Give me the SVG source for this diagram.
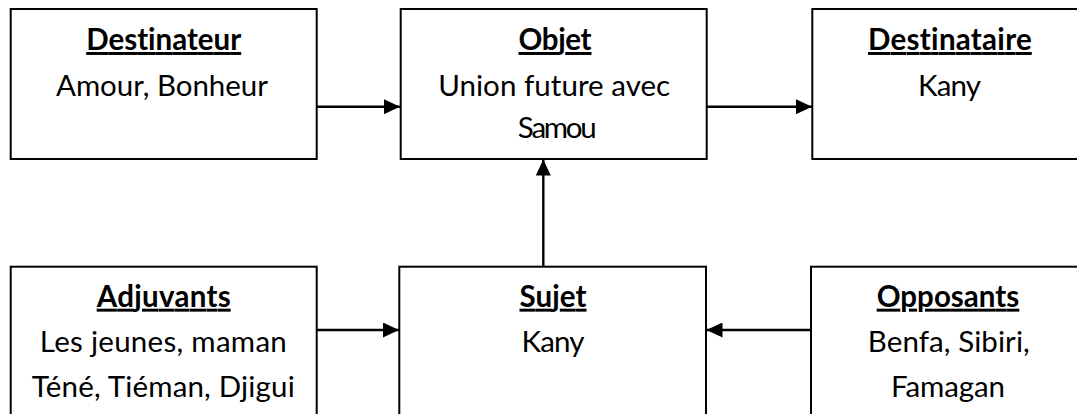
<svg xmlns="http://www.w3.org/2000/svg" width="1077" height="414" viewBox="0 0 1077 414">
  <style>
    .box { fill: #ffffff; stroke: #000000; stroke-width: 2; }
    .t { font-family: Lato, "Liberation Sans", sans-serif; font-size: 29.5px; fill: #000000; text-anchor: middle; font-variant-ligatures: none; }
    .h { font-weight: bold; text-decoration: underline; }
    .conn { stroke: #000000; stroke-width: 2.4; fill: none; marker-end: url(#arrow); }
  </style>
  <defs>
    <marker id="arrow" markerUnits="userSpaceOnUse" markerWidth="16" markerHeight="15" refX="16" refY="7.5" orient="auto">
      <path d="M0,0 L16,7.5 L0,15 Z" fill="#000000"/>
    </marker>
  </defs>
  <rect width="1077" height="414" fill="#ffffff"/>

  <g id="connectors">
    <line class="conn" x1="316.7" y1="106.7" x2="400" y2="106.7"/>
    <line class="conn" x1="706.7" y1="106.7" x2="812" y2="106.7"/>
    <line class="conn" x1="543.3" y1="266.7" x2="543.3" y2="159.5"/>
    <line class="conn" x1="316.7" y1="330" x2="399" y2="330"/>
    <line class="conn" x1="811" y1="330" x2="706.5" y2="330"/>
  </g>

  <g id="destinateur">
    <rect class="box" x="10.7" y="9" width="306" height="150"/>
    <text class="t h" x="163.7" y="50" textLength="155" lengthAdjust="spacing">Destinateur</text>
    <text class="t" x="162" y="95.7" textLength="212" lengthAdjust="spacing">Amour, Bonheur</text>
  </g>

  <g id="objet">
    <rect class="box" x="400.7" y="9" width="306" height="150"/>
    <text class="t h" x="555" y="50" textLength="73" lengthAdjust="spacing">Objet</text>
    <text class="t" x="554.2" y="95.7" textLength="232" lengthAdjust="spacing">Union future avec</text>
    <text class="t" x="557.3" y="138.3" textLength="79" lengthAdjust="spacing">Samou</text>
  </g>

  <g id="destinataire">
    <rect class="box" x="812.3" y="9" width="290" height="150"/>
    <text class="t h" x="949.9" y="50" textLength="163.7" lengthAdjust="spacing">Destinataire</text>
    <text class="t" x="949.5" y="95.7" textLength="63" lengthAdjust="spacing">Kany</text>
  </g>

  <g id="adjuvants">
    <rect class="box" x="10.7" y="266.7" width="306" height="170"/>
    <text class="t h" x="163.7" y="306.7" textLength="134" lengthAdjust="spacing">Adjuvants</text>
    <text class="t" x="163.3" y="351.7" textLength="247" lengthAdjust="spacing">Les jeunes, maman</text>
    <text class="t" x="163.3" y="396.7" textLength="263" lengthAdjust="spacing">Téné, Tiéman, Djigui</text>
  </g>

  <g id="sujet">
    <rect class="box" x="399.3" y="266.7" width="306.7" height="170"/>
    <text class="t h" x="553" y="306.7" textLength="67" lengthAdjust="spacing">Sujet</text>
    <text class="t" x="553" y="351.7" textLength="63" lengthAdjust="spacing">Kany</text>
  </g>

  <g id="opposants">
    <rect class="box" x="811" y="266.7" width="300" height="170"/>
    <text class="t h" x="948" y="306.7" textLength="142.6" lengthAdjust="spacing">Opposants</text>
    <text class="t" x="948.8" y="351.7" textLength="162" lengthAdjust="spacing">Benfa, Sibiri,</text>
    <text class="t" x="948" y="396.7" textLength="114" lengthAdjust="spacing">Famagan</text>
  </g>
</svg>
